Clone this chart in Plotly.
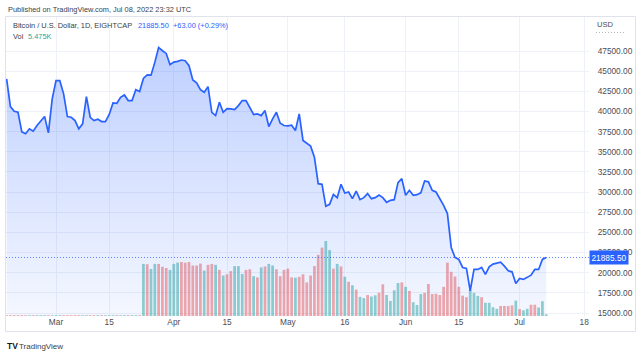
import pandas as pd
import plotly.graph_objects as go

# ---------------- data ----------------
start_date = "2022-02-16"
end_date = "2022-07-08"

close_feb = [44030, 40610, 40030, 39900, 37470, 37230, 37850, 37550, 38260, 38870, 39370, 37350, 41560]
close_mar = [43820, 43820, 42180, 39370, 39280, 38870, 37850, 38470, 41840, 39280, 38870, 39040, 38750, 38750,
             39620, 41060, 41020, 41760, 42050, 41350, 41350, 42710, 42480, 44100, 44530, 44500, 46090, 47940,
             47530, 47200, 45800]
close_apr = [46130, 46210, 46380, 46300, 45680, 43910, 43540, 42710, 42380, 43080, 39900, 39490, 41140, 39900,
             40360, 40320, 40230, 40730, 41350, 41350, 40520, 39620, 39700, 39490, 40110, 38130, 39080, 39900,
             38540, 38260]
close_may = [38220, 38300, 37640, 39700, 36400, 36070, 35700, 34330, 31040, 30960, 28240, 28480, 29720, 29310,
             30960, 29880, 30010, 29180, 30130, 29060, 29310, 29810, 29180, 29310, 29640, 29310, 28730, 28980,
             29060, 31170, 31660]
close_jun = [29600, 30220, 29600, 29680, 29900, 31370, 31270, 30220, 30010, 29180, 28360, 27330, 23130, 21890,
             21640, 20650, 20530, 17760, 20400, 20400, 20650, 19790, 20730, 21060, 21150, 21310, 20810, 20230,
             20110, 18670]
close_jul = [19290, 19170, 19420, 19700, 20400, 20400, 21640, 21885.50]
closes = close_feb + close_mar + close_apr + close_may + close_jun + close_jul

# volume in thousands: tiny before Mar 24 (EIGHTCAP feed), then daily bars Mar 24 - Jul 8
vol_early = [2.5] * 36
vol_main = [166, 165, 150, 166, 166, 157, 153, 147, 166, 170, 172, 170, 172, 161, 161, 167, 145, 163, 166, 163,
            147, 129, 133, 143, 159, 159, 134, 147, 149, 127, 123, 155, 158, 166, 161, 149, 127, 147, 151, 123,
            122, 125, 133, 107, 129, 159, 195, 218, 239, 210, 151, 166, 158, 125, 109, 98, 84, 61, 57, 67,
            62, 66, 74, 101, 67, 48, 82, 105, 107, 93, 80, 44, 35, 70, 74, 102, 70, 71, 67, 93,
            170, 141, 126, 93, 65, 60, 83, 74, 64, 60, 42, 42, 28, 23, 32, 32, 32, 34, 49, 22,
            18, 23, 36, 36, 27, 47, 5.475]
# 1 = up day (teal), 0 = down day (red)
vol_main_up = [1, 0, 1, 1, 0, 0, 0, 1, 1, 1, 0, 0, 0, 0, 0, 0, 1, 0, 0, 1,
               0, 1, 0, 0, 1, 1, 1, 0, 0, 1, 0, 1, 0, 1, 1, 0, 0, 0, 0, 0,
               1, 0, 0, 0, 0, 0, 0, 0, 1, 1, 0, 1, 0, 1, 0, 1, 0, 1, 1, 0,
               1, 1, 0, 0, 1, 1, 1, 1, 0, 1, 0, 1, 1, 1, 0, 0, 0, 0, 0, 0,
               0, 0, 0, 0, 0, 0, 1, 1, 1, 0, 1, 1, 1, 1, 0, 0, 0, 0, 1, 0,
               1, 1, 0, 0, 1, 1, 1]

price_ticks = [15000, 17500, 20000, 22500, 25000, 27500, 30000, 32500, 35000, 37500, 40000, 42500, 45000, 47500]
time_tick_dates = ["2022-03-01", "2022-03-15", "2022-04-01", "2022-04-15", "2022-05-01", "2022-05-16",
                   "2022-06-01", "2022-06-15", "2022-07-01", "2022-07-18"]
time_tick_labels = ["Mar", "15", "Apr", "15", "May", "16", "Jun", "15", "Jul", "18"]

last_price = "21885.50"
last_change = "+63.00 (+0.29%)"
last_vol = "5.475K"

# ---------------- figure ----------------
dates = pd.date_range(start_date, end_date, freq="D")
vols = vol_early + vol_main

UP = "rgba(38,166,154,0.5)"
DOWN = "rgba(239,83,80,0.5)"
early_up = [0] + [1 if closes[i] >= closes[i - 1] else 0 for i in range(1, 36)]
vol_colors = [UP if u else DOWN for u in early_up + vol_main_up]

W, H = 640, 356
L, R, T, B = 6, 51, 17, 40
pw, ph = W - L - R, H - T - B


def px(x):
    return (x - L) / pw


def py(y):
    return (H - B - y) / ph


fig = go.Figure()

fig.add_trace(go.Bar(
    x=dates, y=vols, marker=dict(color=vol_colors, line=dict(width=0)),
    yaxis="y", hoverinfo="skip", showlegend=False,
))

fig.add_trace(go.Scatter(
    x=dates, y=closes, mode="lines", yaxis="y2",
    line=dict(color="#2962FF", width=1.7),
    fill="tozeroy",
    fillgradient=dict(type="vertical", start=14628, stop=47940,
                      colorscale=[[0, "rgba(41,98,255,0.05)"], [1, "rgba(41,98,255,0.30)"]]),
    showlegend=False, hoverinfo="skip",
))

text_col = "#4a4d57"
font_fam = "Liberation Sans, Arial, sans-serif"

fig.update_layout(
    width=W, height=H,
    margin=dict(l=L, r=R, t=T, b=B),
    paper_bgcolor="white", plot_bgcolor="white",
    bargap=0.28,
    font=dict(family=font_fam, size=8.5, color=text_col),
    xaxis=dict(
        type="date",
        range=["2022-02-15 20:10", "2022-07-19 06:15"],
        tickvals=time_tick_dates, ticktext=time_tick_labels,
        showgrid=True, gridcolor="#eef1f7", gridwidth=1,
        zeroline=False, showline=False,
        ticks="",
        tickfont=dict(size=8.3, color=text_col),
    ),
    yaxis=dict(
        range=[0, 953], visible=False, showgrid=False, fixedrange=True,
    ),
    yaxis2=dict(
        overlaying="y", side="right",
        range=[14628, 51718],
        tickvals=price_ticks, tickformat=".2f",
        showgrid=True, gridcolor="#eef1f7", gridwidth=1,
        zeroline=False, showline=False,
        ticks="outside", ticklen=6, tickcolor="rgba(0,0,0,0)",
        tickfont=dict(size=8.3, color=text_col),
    ),
)

# last price dotted line
fig.add_shape(type="line", xref="paper", yref="y2", x0=0, x1=1, y0=closes[-1], y1=closes[-1],
              line=dict(color="rgba(41,98,255,0.75)", width=1, dash="1px,2px"))

# chart frame
fig.add_shape(type="rect", xref="paper", yref="paper",
              x0=px(5.5), x1=px(635.5), y0=py(331.5), y1=py(16.5),
              line=dict(color="#e0e3eb", width=1), fillcolor="rgba(0,0,0,0)", layer="below")

# USD dotted underline
fig.add_shape(type="line", xref="paper", yref="paper", x0=px(596), x1=px(626), y0=py(32.5), y1=py(32.5),
              line=dict(color="#b2b5be", width=1, dash="1px,2px"))

ann = []
ann.append(dict(text="Published on TradingView.com, Jul 08, 2022 23:32 UTC", x=px(6), y=py(9),
                xanchor="left", yanchor="middle", font=dict(size=7.4, color="#3b3e47")))
ann.append(dict(text="Bitcoin / U.S. Dollar, 1D, EIGHTCAP", x=px(10.5), y=py(25.7),
                xanchor="left", yanchor="middle", font=dict(size=7.4, color="#3b3e47")))
ann.append(dict(text=last_price, x=px(135.5), y=py(25.7),
                xanchor="left", yanchor="middle", font=dict(size=7.4, color="#2962FF")))
ann.append(dict(text=last_change, x=px(170.5), y=py(25.7),
                xanchor="left", yanchor="middle", font=dict(size=7.4, color="#2962FF")))
ann.append(dict(text="Vol", x=px(10.5), y=py(36.5),
                xanchor="left", yanchor="middle", font=dict(size=7.4, color="#3b3e47")))
ann.append(dict(text=last_vol, x=px(25.5), y=py(36.5),
                xanchor="left", yanchor="middle", font=dict(size=7.4, color="#26a69a")))
ann.append(dict(text="USD", x=px(595), y=py(25),
                xanchor="left", yanchor="middle", font=dict(size=7.6, color=text_col)))
ann.append(dict(text=last_price, x=1, xref="paper", y=closes[-1], yref="y2",
                xanchor="left", yanchor="middle", bgcolor="#2962FF", borderpad=1.5,
                font=dict(size=8.3, color="white")))
ann.append(dict(text="<b>TV</b>", x=px(5), y=py(346),
                xanchor="left", yanchor="middle", font=dict(size=8.5, color="#131722")))
ann.append(dict(text="TradingView", x=px(16.5), y=py(346),
                xanchor="left", yanchor="middle", font=dict(size=8, color="#3b3e47")))

for a in ann:
    a.setdefault("xref", "paper")
    a.setdefault("yref", "paper")
    a["showarrow"] = False
fig.update_layout(annotations=ann)

fig.write_html("out.html",
               config={"displayModeBar": False, "staticPlot": True},
               post_script="document.body.style.margin='0';document.body.style.overflow='hidden';")
